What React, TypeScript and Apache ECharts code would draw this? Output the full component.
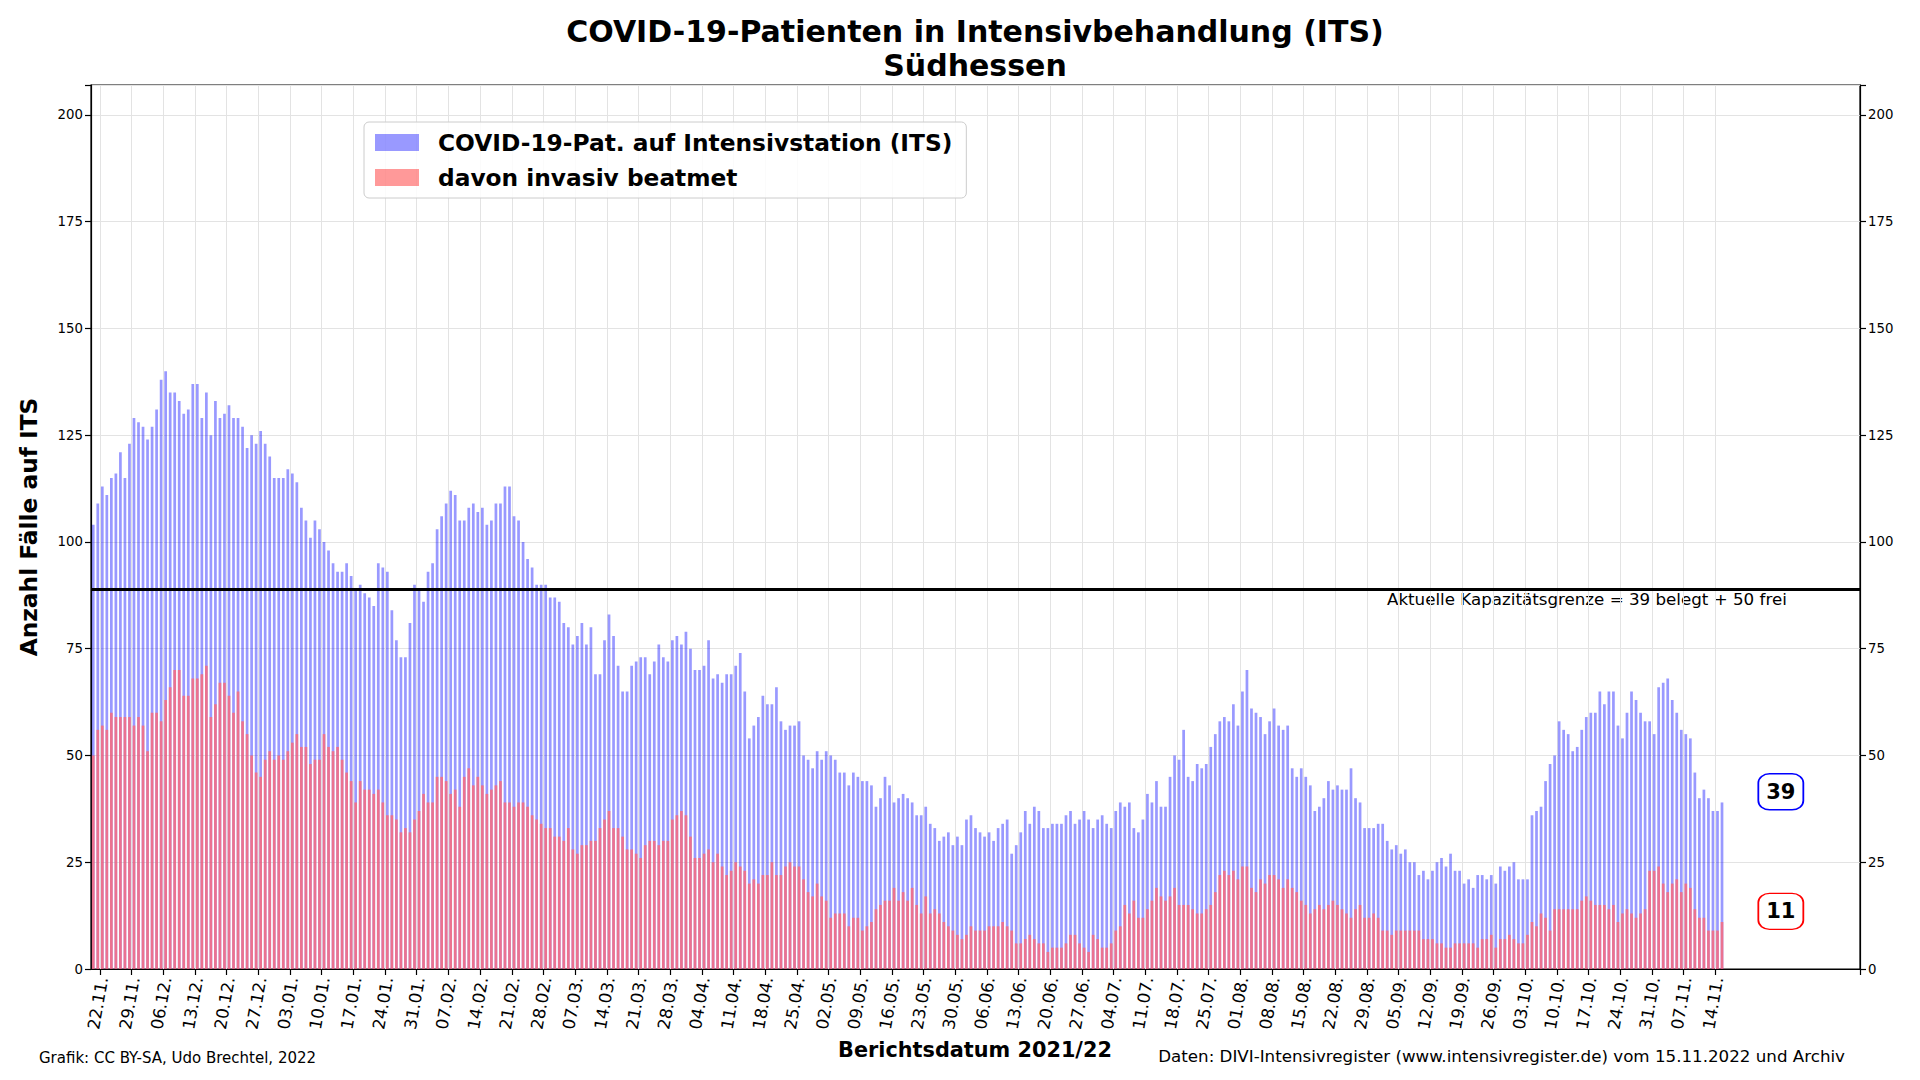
import React, { useEffect, useRef } from 'react';
import * as echarts from 'echarts';

// ---------- data ----------
const startDateUTC = Date.UTC(2021, 10, 20); // first bar: 20.11.2021
const axisDays = 391; // x range incl. empty space after last bar
const firstLabelIndex = 2; // 22.11.2021

const weekLabels = ['22.11.', '29.11.', '06.12.', '13.12.', '20.12.', '27.12.', '03.01.', '10.01.', '17.01.', '24.01.', '31.01.', '07.02.', '14.02.', '21.02.', '28.02.', '07.03.', '14.03.', '21.03.', '28.03.', '04.04.', '11.04.', '18.04.', '25.04.', '02.05.', '09.05.', '16.05.', '23.05.', '30.05.', '06.06.', '13.06.', '20.06.', '27.06.', '04.07.', '11.07.', '18.07.', '25.07.', '01.08.', '08.08.', '15.08.', '22.08.', '29.08.', '05.09.', '12.09.', '19.09.', '26.09.', '03.10.', '10.10.', '17.10.', '24.10.', '31.10.', '07.11.', '14.11.'];

const itsPatients = [
  104, 109, 113, 111, 115, 116, 121, 115, 123, 129, 128, 127, 124, 127, 131, 138, 140, 135, 135, 133, 130, 131, 137, 137, 129, 135, 125, 133, 129, 130, 132, 129, 129,
  127, 122, 125, 123, 126, 123, 120, 115, 115, 115, 117, 116, 114, 108, 105, 101, 105, 103, 100, 98, 95, 93, 93, 95, 92, 89, 90, 88, 87, 85, 95, 94, 93,
  84, 77, 73, 73, 81, 90, 89, 86, 93, 95, 103, 106, 109, 112, 111, 105, 105, 108, 109, 107, 108, 104, 105, 109, 109, 113, 113, 106, 105, 100, 96, 94, 90,
  90, 90, 87, 87, 86, 81, 80, 76, 78, 81, 76, 80, 69, 69, 77, 83, 78, 71, 65, 65, 71, 72, 73, 73, 69, 72, 76, 73, 72, 77, 78, 76, 79,
  75, 70, 70, 71, 77, 68, 69, 67, 69, 69, 71, 74, 65, 54, 57, 59, 64, 62, 62, 66, 58, 56, 57, 57, 58, 50, 49, 47, 51, 49, 51, 50, 49, 46,
  46, 43, 46, 45, 44, 44, 43, 38, 40, 45, 43, 39, 40, 41, 40, 39, 36, 36, 38, 34, 33, 30, 31, 32, 29, 31, 29, 35, 36, 33, 32, 31, 32,
  30, 33, 34, 35, 27, 29, 32, 37, 34, 38, 37, 33, 33, 34, 34, 34, 36, 37, 34, 35, 37, 35, 33, 35, 36, 34, 33, 37, 39, 38, 39, 33, 32,
  35, 41, 39, 44, 38, 38, 45, 50, 49, 56, 45, 44, 48, 47, 48, 52, 55, 58, 59, 58, 62, 57, 65, 70, 61, 60, 59, 55, 58, 61, 57, 56, 57,
  47, 45, 47, 45, 43, 37, 38, 40, 44, 42, 43, 42, 42, 47, 40, 39, 33, 33, 33, 34, 34, 30, 28, 29, 27, 28, 25, 25, 22, 23, 21, 23, 25,
  26, 24, 27, 23, 23, 20, 21, 19, 22, 22, 21, 22, 20, 24, 23, 24, 25, 21, 21, 21, 36, 37, 38, 44, 48, 50, 58, 56, 55, 51, 52, 56, 59,
  60, 60, 65, 62, 65, 65, 57, 54, 60, 65, 63, 60, 58, 58, 55, 66, 67, 68, 63, 60, 56, 55, 54, 46, 40, 42, 40, 37, 37, 39,
];

const invasiveVentilated = [
  50, 56, 57, 56, 60, 59, 59, 59, 59, 57, 59, 57, 51, 60, 60, 58, 63, 66, 70, 70, 64, 64, 68, 68, 69, 71, 59, 62, 67, 67, 64, 60, 65,
  58, 55, 50, 46, 45, 49, 51, 49, 50, 49, 51, 53, 55, 52, 52, 48, 49, 49, 55, 52, 51, 52, 49, 46, 44, 39, 44, 42, 42, 41, 42, 39, 36,
  36, 35, 32, 33, 32, 35, 37, 41, 39, 39, 45, 45, 44, 41, 42, 38, 45, 47, 43, 45, 43, 41, 42, 43, 44, 39, 39, 38, 39, 39, 38, 36, 35,
  34, 33, 33, 31, 31, 30, 33, 28, 27, 29, 29, 30, 30, 33, 35, 37, 33, 33, 31, 28, 28, 27, 26, 29, 30, 30, 29, 30, 30, 35, 36, 37, 36,
  31, 26, 26, 27, 28, 25, 27, 24, 22, 23, 25, 24, 23, 20, 21, 20, 22, 22, 25, 22, 22, 24, 25, 24, 24, 21, 18, 17, 20, 17, 16, 12, 13, 13,
  13, 10, 12, 12, 9, 10, 11, 14, 15, 16, 16, 19, 16, 18, 16, 19, 15, 13, 17, 13, 14, 13, 11, 10, 9, 8, 7, 8, 10, 9, 9, 9, 10,
  10, 10, 11, 10, 9, 6, 6, 7, 8, 7, 6, 6, 4, 5, 5, 5, 6, 8, 8, 6, 5, 4, 8, 7, 5, 5, 6, 9, 10, 15, 13, 16, 12,
  12, 14, 16, 19, 17, 16, 17, 19, 15, 15, 15, 14, 13, 13, 14, 15, 18, 22, 23, 22, 23, 21, 24, 24, 19, 18, 21, 20, 22, 22, 21, 19, 21,
  19, 18, 16, 15, 13, 14, 15, 14, 15, 16, 15, 14, 13, 12, 14, 15, 12, 12, 13, 12, 9, 9, 8, 9, 9, 9, 9, 9, 9, 7, 7, 7, 6,
  6, 5, 5, 6, 6, 6, 6, 6, 5, 7, 7, 8, 5, 7, 7, 8, 7, 6, 6, 8, 11, 10, 13, 12, 9, 14, 14, 14, 14, 14, 14, 16, 17,
  16, 15, 15, 15, 14, 15, 11, 13, 14, 13, 12, 13, 14, 23, 23, 24, 20, 18, 20, 21, 18, 20, 19, 14, 12, 12, 9, 9, 9, 11,
];

const capacityOccupied = 39;
const capacityFree = 50;

const seriesNames = ['COVID-19-Pat. auf Intensivstation (ITS)', 'davon invasiv beatmet'];

// ---------- derived ----------
const pad = (n: number) => (n < 10 ? '0' + n : '' + n);
const categories: string[] = [];
for (let i = 0; i < axisDays; i++) {
  const d = new Date(startDateUTC + i * 86400000);
  categories.push(pad(d.getUTCDate()) + '.' + pad(d.getUTCMonth() + 1) + '.' + d.getUTCFullYear());
}
const isWeekTick = (index: number) => {
  const k = index - firstLabelIndex;
  return k >= 0 && k % 7 === 0 && k / 7 < weekLabels.length;
};

const FONT = '"DejaVu Sans", "Liberation Sans", sans-serif';
const GRID = { left: 91, top: 85, width: 1769, height: 884 };
const lastIdx = itsPatients.length - 1;
const boxIdx = lastIdx + 13;

const BLUE = 'rgba(0,0,255,0.4)';
const RED_LEGEND = 'rgba(255,0,0,0.4)';
const RED_BAR = 'rgba(255,104,116,0.8)';

function buildOption(): any {
  const yAxisCommon = {
    type: 'value',
    min: 0,
    max: 207,
    interval: 25,
    axisLine: { show: true, lineStyle: { color: '#000', width: 1.2 } },
    axisTick: { show: true, length: 6, lineStyle: { color: '#000', width: 1.2 } },
    axisLabel: {
      color: '#000',
      fontSize: 13.3,
      fontFamily: FONT,
      margin: 8,
      formatter: (v: number) => (v % 25 === 0 ? String(v) : ''),
    },
  };
  return {
    animation: false,
    backgroundColor: '#ffffff',
    textStyle: { fontFamily: FONT },
    grid: { ...GRID, show: true, borderColor: '#000', borderWidth: 1.2, backgroundColor: 'transparent', containLabel: false },
    legend: {
      orient: 'vertical',
      left: 364,
      top: 122,
      data: [
        { name: seriesNames[0], itemStyle: { color: BLUE } },
        { name: seriesNames[1], itemStyle: { color: RED_LEGEND } },
      ],
      icon: 'rect',
      itemWidth: 44,
      itemHeight: 17,
      itemGap: 12,
      padding: [9, 14, 9, 11],
      backgroundColor: 'rgba(255,255,255,0.85)',
      borderColor: '#cccccc',
      borderWidth: 1,
      borderRadius: 5,
      textStyle: { fontSize: 23.3, fontWeight: 'bold', color: '#000', fontFamily: FONT, padding: [0, 0, 0, 14] },
      selectedMode: false,
    },
    xAxis: {
      type: 'category',
      data: categories,
      boundaryGap: true,
      axisLine: { show: true, lineStyle: { color: '#000', width: 1.2 } },
      axisTick: { show: true, interval: (i: number) => isWeekTick(i), length: 6, lineStyle: { color: '#000', width: 1.2 } },
      axisLabel: {
        interval: (i: number) => isWeekTick(i),
        rotate: 80,
        fontSize: 16.7,
        color: '#000',
        fontFamily: FONT,
        margin: 8,
        formatter: (_v: string, i: number) => weekLabels[(i - firstLabelIndex) / 7] ?? '',
      },
      splitLine: { show: true, interval: (i: number) => isWeekTick(i), lineStyle: { color: '#e3e3e3', width: 1 } },
    },
    yAxis: [
      { ...yAxisCommon, position: 'left', splitLine: { show: true, lineStyle: { color: '#e3e3e3', width: 1 } } },
      { ...yAxisCommon, position: 'right', splitLine: { show: false } },
    ],
    series: [
      {
        name: seriesNames[0],
        type: 'bar',
        data: itsPatients,
        barWidth: '60%',
        barGap: '-100%',
        itemStyle: { color: BLUE },
        markLine: {
          silent: true,
          symbol: 'none',
          label: { show: false },
          lineStyle: { color: '#000', width: 3, type: 'solid' },
          data: [{ yAxis: capacityOccupied + capacityFree }],
        },
        markPoint: {
          symbol: 'roundRect',
          symbolSize: [45, 36],
          itemStyle: { color: '#fff', borderColor: '#0000ff', borderWidth: 1.6 },
          label: { show: true, position: 'inside', formatter: '{c}', color: '#000', fontSize: 21, fontWeight: 'bold', fontFamily: FONT },
          data: [{ coord: [categories[boxIdx], itsPatients[lastIdx] + 2.5], value: itsPatients[lastIdx] }],
        },
      },
      {
        name: seriesNames[1],
        type: 'bar',
        data: invasiveVentilated,
        barWidth: '60%',
        barGap: '-100%',
        itemStyle: { color: RED_BAR },
        markPoint: {
          symbol: 'roundRect',
          symbolSize: [45, 36],
          itemStyle: { color: '#fff', borderColor: '#ff0000', borderWidth: 1.6 },
          label: { show: true, position: 'inside', formatter: '{c}', color: '#000', fontSize: 21, fontWeight: 'bold', fontFamily: FONT },
          data: [{ coord: [categories[boxIdx], invasiveVentilated[lastIdx] + 2.5], value: invasiveVentilated[lastIdx] }],
        },
      },
    ],
    graphic: [
      {
        type: 'text', x: 975, y: 31,
        style: { text: 'COVID-19-Patienten in Intensivbehandlung (ITS)', fontSize: 30, fontWeight: 'bold', fontFamily: FONT, fill: '#000', textAlign: 'center', textVerticalAlign: 'middle', align: 'center', verticalAlign: 'middle' },
      },
      {
        type: 'text', x: 975, y: 65,
        style: { text: 'Südhessen', fontSize: 30, fontWeight: 'bold', fontFamily: FONT, fill: '#000', textAlign: 'center', textVerticalAlign: 'middle', align: 'center', verticalAlign: 'middle' },
      },
      {
        type: 'text', x: 28, y: 527, rotation: Math.PI / 2,
        style: { text: 'Anzahl Fälle auf ITS', fontSize: 23.3, fontWeight: 'bold', fontFamily: FONT, fill: '#000', textAlign: 'center', textVerticalAlign: 'middle', align: 'center', verticalAlign: 'middle' },
      },
      {
        type: 'text', x: 975, y: 1050,
        style: { text: 'Berichtsdatum 2021/22', fontSize: 20.8, fontWeight: 'bold', fontFamily: FONT, fill: '#000', textAlign: 'center', textVerticalAlign: 'middle', align: 'center', verticalAlign: 'middle' },
      },
      {
        type: 'text', x: 1387, y: 599,
        style: { text: 'Aktuelle Kapazitätsgrenze = ' + capacityOccupied + ' belegt + ' + capacityFree + ' frei', fontSize: 16.7, fontFamily: FONT, fill: '#000', textAlign: 'left', textVerticalAlign: 'middle', align: 'left', verticalAlign: 'middle' },
      },
      {
        type: 'text', x: 39, y: 1058,
        style: { text: 'Grafik: CC BY-SA, Udo Brechtel, 2022', fontSize: 15, fontFamily: FONT, fill: '#000', textAlign: 'left', textVerticalAlign: 'middle', align: 'left', verticalAlign: 'middle' },
      },
      {
        type: 'text', x: 1845, y: 1056,
        style: { text: 'Daten: DIVI-Intensivregister (www.intensivregister.de) vom 15.11.2022 und Archiv', fontSize: 16.7, fontFamily: FONT, fill: '#000', textAlign: 'right', textVerticalAlign: 'middle', align: 'right', verticalAlign: 'middle' },
      },
    ],
  };
}

export default function App() {
  const ref = useRef<HTMLDivElement>(null);
  useEffect(() => {
    if (!ref.current) return;
    const chart = echarts.init(ref.current, null, { renderer: 'svg' });
    chart.setOption(buildOption());
    return () => chart.dispose();
  }, []);
  return (
    <div
      ref={ref}
      style={{ position: 'absolute', left: 0, top: 0, width: 1920, height: 1080, background: '#ffffff' }}
    />
  );
}
